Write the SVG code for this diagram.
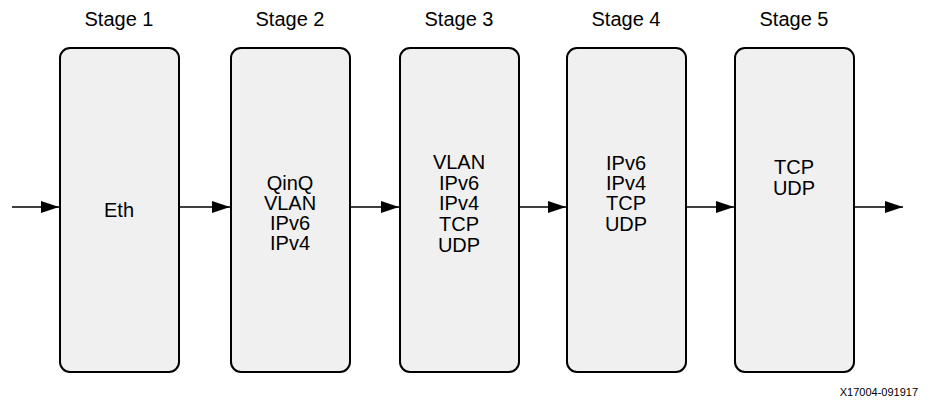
<svg xmlns="http://www.w3.org/2000/svg" width="936" height="402" viewBox="0 0 936 402">
<style>
.box{fill:#f0f0f0;stroke:#000;stroke-width:2}
.t{font-family:"Liberation Sans",Arial,sans-serif;font-size:20px;fill:#000;text-anchor:middle}
.conn line{stroke:#000;stroke-width:1.5}
.id{font-family:"Liberation Sans",Arial,sans-serif;font-size:11px;fill:#000;text-anchor:end}
</style>
<defs>
<marker id="ah" markerWidth="18" markerHeight="12" refX="18" refY="6" orient="auto" markerUnits="userSpaceOnUse">
<path d="M0,0 L18,6 L0,12 Z" fill="#000"/>
</marker>
</defs>
<g id="stage1">
<text class="t" x="119" y="26">Stage 1</text>
<rect class="box" x="60" y="48" width="119" height="324" rx="10"/>
<text class="t" x="119" y="217">Eth</text>
</g>
<g id="stage2">
<text class="t" x="290" y="26">Stage 2</text>
<rect class="box" x="231" y="48" width="119" height="324" rx="10"/>
<text class="t" x="290" y="190">QinQ</text>
<text class="t" x="290" y="210">VLAN</text>
<text class="t" x="290" y="230">IPv6</text>
<text class="t" x="290" y="250">IPv4</text>
</g>
<g id="stage3">
<text class="t" x="459" y="26">Stage 3</text>
<rect class="box" x="400" y="48" width="119" height="324" rx="10"/>
<text class="t" x="459" y="169">VLAN</text>
<text class="t" x="459" y="190">IPv6</text>
<text class="t" x="459" y="210">IPv4</text>
<text class="t" x="459" y="231">TCP</text>
<text class="t" x="459" y="252">UDP</text>
</g>
<g id="stage4">
<text class="t" x="626" y="26">Stage 4</text>
<rect class="box" x="567" y="48" width="119" height="324" rx="10"/>
<text class="t" x="626" y="170">IPv6</text>
<text class="t" x="626" y="190">IPv4</text>
<text class="t" x="626" y="210">TCP</text>
<text class="t" x="626" y="231">UDP</text>
</g>
<g id="stage5">
<text class="t" x="794" y="26">Stage 5</text>
<rect class="box" x="735" y="48" width="119" height="324" rx="10"/>
<text class="t" x="794" y="174">TCP</text>
<text class="t" x="794" y="195">UDP</text>
</g>
<g id="connectors" class="conn">
<line x1="12" y1="207" x2="59" y2="207" marker-end="url(#ah)"/>
<line x1="180" y1="207" x2="230" y2="207" marker-end="url(#ah)"/>
<line x1="351" y1="207" x2="399" y2="207" marker-end="url(#ah)"/>
<line x1="520" y1="207" x2="566" y2="207" marker-end="url(#ah)"/>
<line x1="687" y1="207" x2="734" y2="207" marker-end="url(#ah)"/>
<line x1="855" y1="207" x2="903" y2="207" marker-end="url(#ah)"/>
</g>
<text class="id" x="918" y="396">X17004-091917</text>
</svg>
